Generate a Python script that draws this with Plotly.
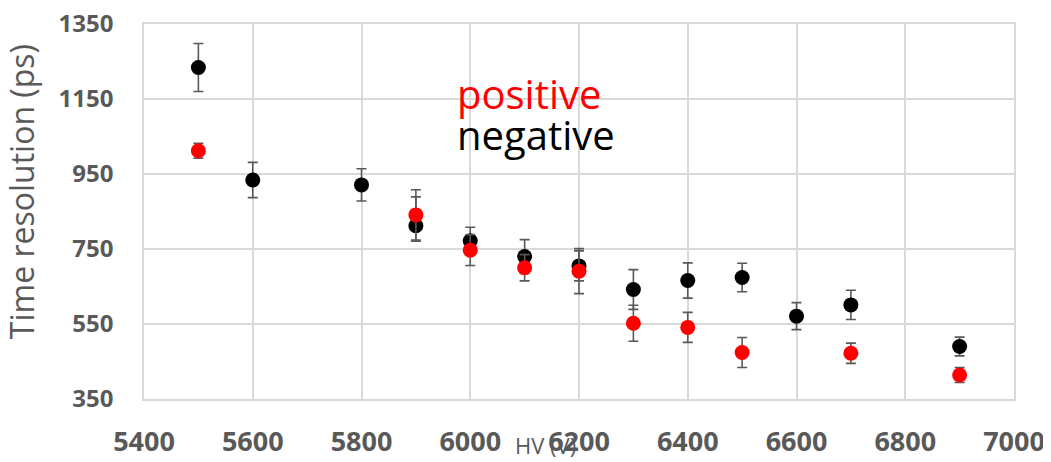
import plotly.graph_objects as go

# Data
hv_negative = [5500, 5600, 5800, 5900, 6000, 6100, 6200, 6300, 6400, 6500, 6600, 6700, 6900]
res_negative = [1234, 934, 921, 812, 772, 730, 705, 642, 666, 674, 571, 601, 490]
err_negative_plus = [64, 47, 43, 77, 36, 45, 40, 53, 47, 38, 36, 39, 25]
err_negative_minus = [64, 47, 43, 41, 36, 45, 40, 53, 47, 38, 36, 39, 25]

hv_positive = [5500, 5900, 6000, 6100, 6200, 6300, 6400, 6500, 6700, 6900]
res_positive = [1012, 841, 747, 700, 691, 552, 541, 474, 472, 414]
err_positive = [20, 67, 41, 35, 60, 48, 40, 40, 27, 20]

x_ticks = [5400, 5600, 5800, 6000, 6200, 6400, 6600, 6800, 7000]
y_ticks = [350, 550, 750, 950, 1150, 1350]

GRID = "#d9d9d9"
TXT = "#595959"
ERR = "#595959"

fig = go.Figure()
fig.add_trace(go.Scatter(
    x=hv_negative, y=res_negative, mode="markers", name="negative",
    marker=dict(color="black", size=15),
    error_y=dict(type="data", array=err_negative_plus, arrayminus=err_negative_minus,
                 symmetric=False, color=ERR, thickness=1.6, width=5),
))
fig.add_trace(go.Scatter(
    x=hv_positive, y=res_positive, mode="markers", name="positive",
    marker=dict(color="#ff0000", size=15),
    error_y=dict(type="data", array=err_positive, color=ERR, thickness=1.6, width=5),
))

fig.update_layout(
    width=1051, height=462,
    margin=dict(l=136, r=45, t=16, b=71, autoexpand=False),
    paper_bgcolor="white", plot_bgcolor="white",
    showlegend=False,
    font=dict(family="Open Sans", color=TXT),
    xaxis=dict(range=[5400, 7000], tickvals=x_ticks, showgrid=True, gridcolor=GRID,
               gridwidth=1.5, zeroline=False, showline=True, mirror=True,
               linecolor=GRID, linewidth=1.5, ticks="", automargin=False,
               ticklabeloverflow="allow",
               tickfont=dict(family="Open Sans", size=27, color=TXT, weight="bold"),
               ticklabelstandoff=18),
    yaxis=dict(range=[350, 1350], tickvals=y_ticks, showgrid=True, gridcolor=GRID,
               gridwidth=1.5, zeroline=False, showline=True, mirror=True,
               linecolor=GRID, linewidth=1.5, ticks="", automargin=False,
               ticklabeloverflow="allow",
               tickfont=dict(family="Open Sans", size=24, color=TXT, weight="bold"),
               ticklabelstandoff=24),
    annotations=[
        dict(text="Time resolution (ps)", xref="paper", yref="paper", x=-0.14, y=0.552,
             textangle=-90, showarrow=False, xanchor="center", yanchor="middle",
             font=dict(family="Open Sans", size=32, color=TXT)),
        dict(text="HV (V)", xref="paper", yref="paper", x=0.461, y=-0.123,
             showarrow=False, xanchor="center", yanchor="middle",
             font=dict(family="Open Sans", size=22, color=TXT)),
        dict(text="positive", xref="paper", yref="paper", x=0.357, y=0.815,
             showarrow=False, xanchor="left", yanchor="middle",
             font=dict(family="Open Sans", size=40, color="#ff0000")),
        dict(text="negative", xref="paper", yref="paper", x=0.357, y=0.705,
             showarrow=False, xanchor="left", yanchor="middle",
             font=dict(family="Open Sans", size=40, color="black")),
    ],
)

fig.write_html("out.html")
